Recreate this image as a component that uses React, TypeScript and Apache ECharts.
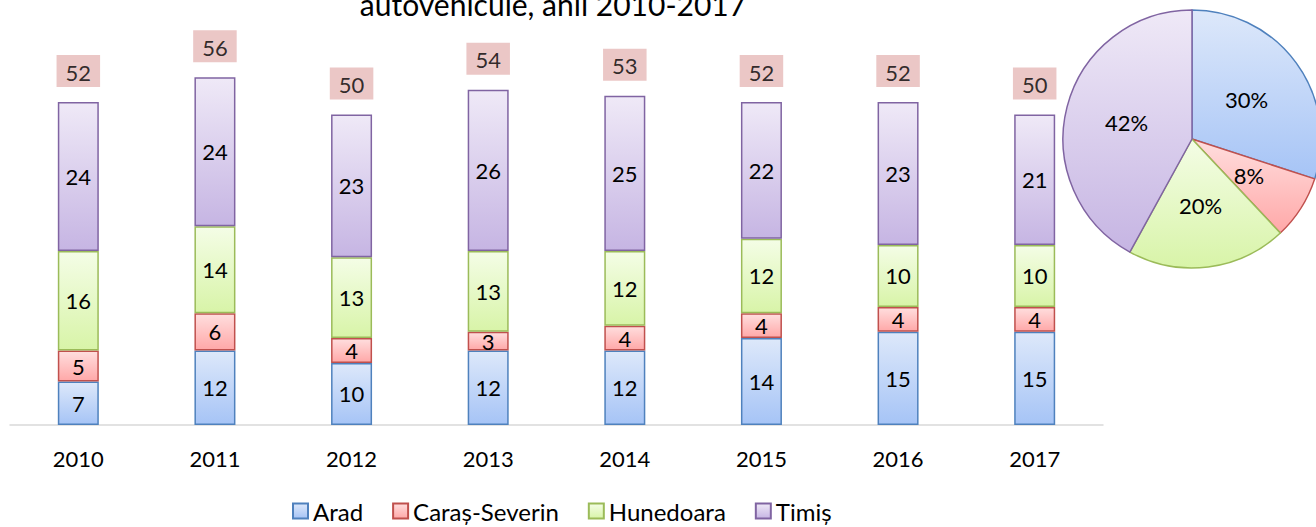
import React, { useEffect, useRef } from "react";
import * as echarts from "echarts";

const years = ["2010", "2011", "2012", "2013", "2014", "2015", "2016", "2017"];
const arad = [7, 12, 10, 12, 12, 14, 15, 15];
const caras = [5, 6, 4, 3, 4, 4, 4, 4];
const hunedoara = [16, 14, 13, 13, 12, 12, 10, 10];
const timis = [24, 24, 23, 26, 25, 22, 23, 21];
const seriesNames = ["Arad", "Caraș-Severin", "Hunedoara", "Timiș"];
const piePercent = [30, 8, 20, 42];
const titleText = "autovehicule, anii 2010-2017";

const FONT = "Lato, 'Open Sans', sans-serif";

const styles = [
  { top: "#DDE8FA", bottom: "#A6C4F6", border: "#4F81BD" },
  { top: "#FFDEDE", bottom: "#FFA8A8", border: "#C0504D" },
  { top: "#F4FDE6", bottom: "#D8F4A8", border: "#9BBB59" },
  { top: "#EFE9F7", bottom: "#C6B5E3", border: "#8064A2" },
];

const grad = (i: number) =>
  new echarts.graphic.LinearGradient(0, 0, 0, 1, [
    { offset: 0, color: styles[i].top },
    { offset: 1, color: styles[i].bottom },
  ]);

export default function App() {
  const ref = useRef<HTMLDivElement>(null);
  useEffect(() => {
    if (!ref.current) return;
    const chart = echarts.init(ref.current, undefined, { renderer: "svg" });
    const data = [arad, caras, hunedoara, timis];
    const totals = years.map((_, i) => data.reduce((s, d) => s + d[i], 0));
    const barSeries = data.map((d, i) => ({
      name: seriesNames[i],
      type: "bar",
      stack: "total",
      barWidth: 41,
      data: d,
      itemStyle: { color: grad(i), borderColor: styles[i].border, borderWidth: 1.5 },
      label: {
        show: true,
        position: "inside",
        fontSize: 22,
        color: "#000",
        fontFamily: FONT,
      },
    }));
    chart.setOption({
      animation: false,
      textStyle: { fontFamily: FONT },
      graphic: [
        {
          type: "text",
          style: {
            text: titleText,
            x: 553,
            y: 19,
            textAlign: "center",
            textVerticalAlign: "bottom",
            fontSize: 30,
            fontFamily: FONT,
            fill: "#000",
          },
        },
      ],
      legend: {
        data: seriesNames,
        left: 287,
        top: 494,
        itemWidth: 15,
        itemHeight: 15,
        itemGap: 29,
        textStyle: { fontSize: 24, color: "#000", fontFamily: FONT },
        icon: "rect",
      },
      grid: { left: 10, right: 213, top: 52.4, bottom: 102 },
      xAxis: {
        type: "category",
        data: years,
        axisLine: { lineStyle: { color: "#D9D9D9", width: 1.5 } },
        axisTick: { show: false },
        axisLabel: { fontSize: 22, color: "#000", margin: 22, fontFamily: FONT },
      },
      yAxis: { type: "value", min: 0, max: 60, show: false, splitLine: { show: false } },
      series: [
        ...barSeries,
        {
          name: "total",
          type: "scatter",
          data: totals,
          symbolSize: 0,
          z: 10,
          label: {
            show: true,
            position: "top",
            distance: 15,
            fontSize: 22,
            color: "#000",
            fontFamily: FONT,
            backgroundColor: "#E6B9B8",
            padding: [6, 9, 4, 9],
          },
        },
        {
          name: "pie",
          type: "pie",
          center: [1192, 139],
          radius: 129,
          startAngle: 90,
          clockwise: true,
          data: piePercent.map((v, i) => ({
            name: seriesNames[i],
            value: v,
            itemStyle: { color: grad(i), borderColor: styles[i].border, borderWidth: 1.5 },
          })),
          label: {
            show: true,
            position: "inside",
            formatter: "{c}%",
            fontSize: 22,
            color: "#000",
            fontFamily: FONT,
          },
          labelLine: { show: false },
          emphasis: { disabled: true },
        },
      ],
    });
    return () => chart.dispose();
  }, []);
  return <div ref={ref} style={{ width: 1316, height: 527, position: "absolute", left: 0, top: 0 }} />;
}
